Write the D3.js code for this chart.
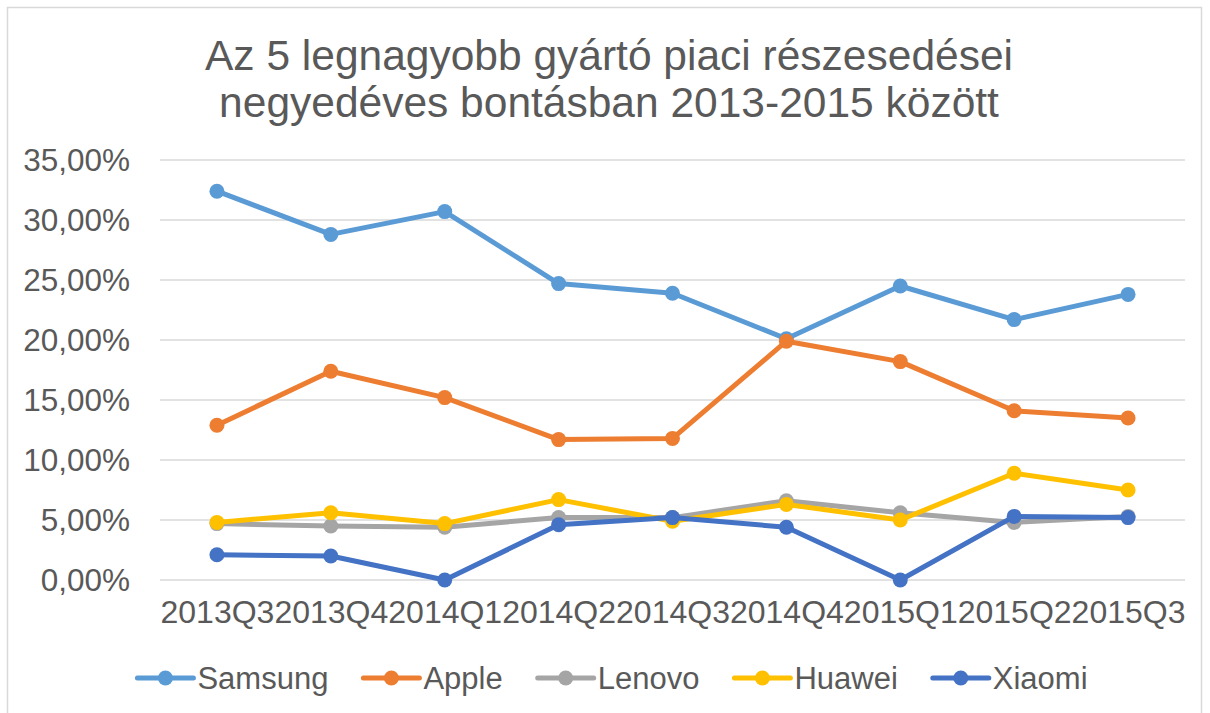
<!DOCTYPE html>
<html>
<head>
<meta charset="utf-8">
<script src="https://cdn.jsdelivr.net/npm/d3@7"></script>
<style>
  body { margin: 0; background: #fff; }
  svg text { font-family: "Liberation Sans", Arial, sans-serif; fill: #595959; }
</style>
</head>
<body>
<svg id="chart"></svg>
<script>
//define constants
const svgWidth = 1210;
const svgHeight = 713;
const plotLeft = 160, plotRight = 1185, plotTop = 160, plotBottom = 580;

//define data
const quarters = ['2013Q3', '2013Q4', '2014Q1', '2014Q2', '2014Q3', '2014Q4', '2015Q1', '2015Q2', '2015Q3'];
const samsung = [32.4, 28.8, 30.7, 24.7, 23.9, 20.1, 24.5, 21.7, 23.8];
const apple = [12.9, 17.4, 15.2, 11.7, 11.8, 19.9, 18.2, 14.1, 13.5];
const lenovo = [4.7, 4.5, 4.4, 5.2, 5.2, 6.6, 5.6, 4.8, 5.3];
const huawei = [4.8, 5.6, 4.7, 6.7, 4.9, 6.3, 5.0, 8.9, 7.5];
const xiaomi = [2.1, 2.0, 0.0, 4.6, 5.2, 4.4, 0.0, 5.3, 5.2];
const yTicks = [0, 5, 10, 15, 20, 25, 30, 35];
const titleLines = ['Az 5 legnagyobb gyártó piaci részesedései', 'negyedéves bontásban 2013-2015 között'];

const series = [
	{ name: 'Samsung', values: samsung, color: '#5b9bd5' },
	{ name: 'Apple', values: apple, color: '#ed7d31' },
	{ name: 'Lenovo', values: lenovo, color: '#a5a5a5' },
	{ name: 'Huawei', values: huawei, color: '#ffc000' },
	{ name: 'Xiaomi', values: xiaomi, color: '#4472c4' }
];

//configure svg window
var svg = d3.select('#chart')
	.attr('width', svgWidth)
	.attr('height', svgHeight);

//chart border
svg.append('rect')
	.attr('x', 7.5).attr('y', 7.5)
	.attr('width', 1194).attr('height', 720)
	.attr('fill', 'none')
	.attr('stroke', '#d9d9d9')
	.attr('stroke-width', 1.5);

//title
svg.append('text')
	.attr('text-anchor', 'middle')
	.style('font-size', '42.5px')
	.selectAll('tspan')
	.data(titleLines)
	.enter()
	.append('tspan')
		.attr('x', 609)
		.attr('y', (d, i) => 70 + i * 47)
		.text(d => d);

//scales
var xScale = d3.scalePoint()
	.domain(quarters)
	.range([plotLeft, plotRight])
	.padding(0.5);

var yScale = d3.scaleLinear()
	.domain([0, 35])
	.range([plotBottom, plotTop]);

//gridlines
svg.append('g')
	.selectAll('line')
	.data(yTicks)
	.enter()
	.append('line')
		.attr('x1', plotLeft).attr('x2', plotRight)
		.attr('y1', d => yScale(d)).attr('y2', d => yScale(d))
		.attr('stroke', '#d9d9d9')
		.attr('stroke-width', 1.5);

//y axis
var yAxis = d3.axisLeft(yScale)
	.tickValues(yTicks)
	.tickSize(0)
	.tickPadding(30)
	.tickFormat(d => d.toFixed(2).replace('.', ',') + '%');
var yG = svg.append('g')
	.attr('transform', `translate(${plotLeft}, 0)`)
	.call(yAxis);
yG.select('.domain').remove();
yG.selectAll('text').style('font-size', '31.5px').attr('fill', '#595959');

//x axis
var xAxis = d3.axisBottom(xScale).tickSize(0).tickPadding(20);
var xG = svg.append('g')
	.attr('transform', `translate(0, ${plotBottom})`)
	.call(xAxis);
xG.select('.domain').remove();
xG.selectAll('text').style('font-size', '32px').attr('fill', '#595959');

//lines
var line = d3.line()
	.x((d, i) => xScale(quarters[i]))
	.y(d => yScale(d));

var groups = svg.selectAll('.series')
	.data(series)
	.enter()
	.append('g')
		.classed('series', true);

groups.append('path')
	.attr('d', d => line(d.values))
	.attr('fill', 'none')
	.attr('stroke', d => d.color)
	.attr('stroke-width', 5)
	.attr('stroke-linejoin', 'round')
	.attr('stroke-linecap', 'round');

groups.selectAll('circle')
	.data(d => d.values.map(v => ({ v: v, color: d.color })))
	.enter()
	.append('circle')
		.attr('cx', (d, i) => xScale(quarters[i]))
		.attr('cy', d => yScale(d.v))
		.attr('r', 7.5)
		.attr('fill', d => d.color);

//legend
var legend = svg.append('g');
var items = legend.selectAll('.item')
	.data(series)
	.enter()
	.append('g')
		.classed('item', true);

items.append('line')
	.attr('x1', 0).attr('x2', 56)
	.attr('y1', 0).attr('y2', 0)
	.attr('stroke', d => d.color)
	.attr('stroke-width', 5)
	.attr('stroke-linecap', 'round');
items.append('circle')
	.attr('cx', 28).attr('cy', 0).attr('r', 7.5)
	.attr('fill', d => d.color);
items.append('text')
	.attr('x', 60)
	.attr('dy', '0.35em')
	.style('font-size', '31px')
	.text(d => d.name);

var offset = 0;
items.each(function() {
	let w = d3.select(this).select('text').node().getComputedTextLength();
	d3.select(this).attr('transform', `translate(${offset}, 0)`);
	offset += 60 + w + 35;
});
var total = offset - 35;
legend.attr('transform', `translate(${612.5 - total / 2}, 678)`);
</script>
</body>
</html>
